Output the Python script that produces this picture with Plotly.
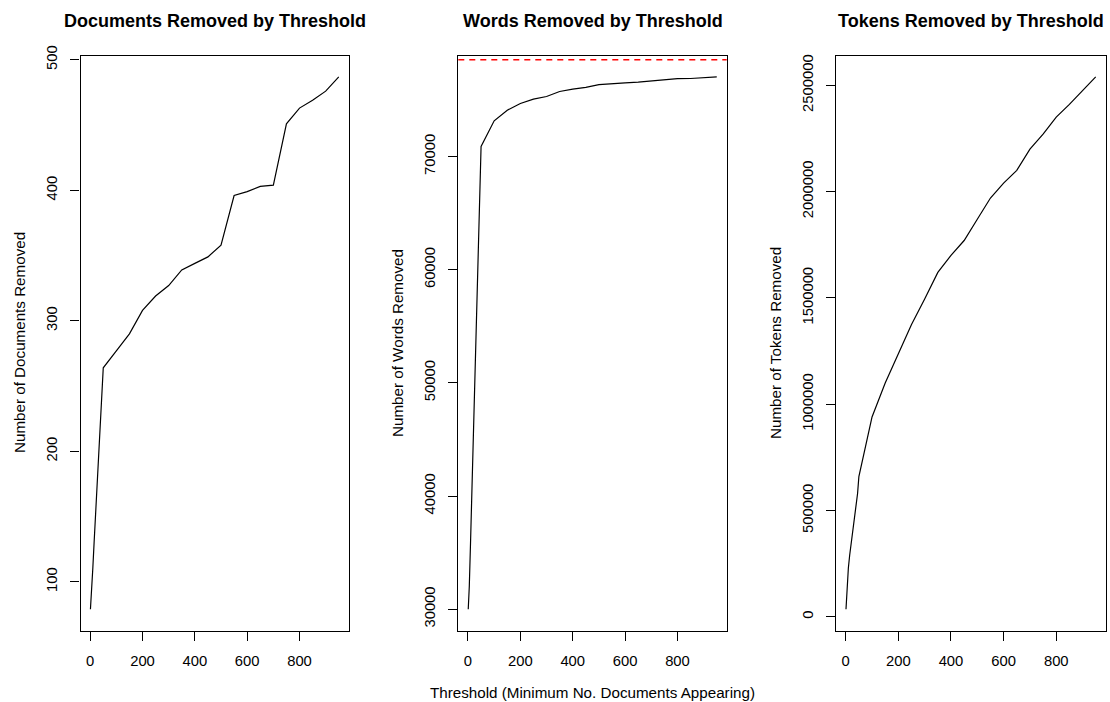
import plotly.graph_objects as go

# ---------------- data ----------------
thresholds = [1, 5, 10, 15, 20, 25, 30, 35, 40, 45, 50,
              100, 150, 200, 250, 300, 350, 400, 450, 500,
              550, 600, 650, 700, 750, 800, 850, 900, 950]

docs_removed = [79, 90, 110, 130, 150, 172, 191, 212, 232, 253, 264,
                277, 290, 308, 319, 327, 339, 344, 349, 358,
                396, 399, 403, 404, 451, 463, 469, 476, 487]

words_removed = [30000, 32000, 36100, 40200, 44300, 48400, 52600, 56500, 60500, 64600, 70900,
                 73160, 74100, 74690, 75080, 75310, 75750, 75960, 76110, 76350,
                 76460, 76520, 76580, 76670, 76760, 76880, 76900, 76950, 77050]

tokens_removed = [36000, 145000, 230000, 290000, 335000, 385000, 430000, 475000, 520000, 580000, 660000,
                  940000, 1100000, 1235000, 1375000, 1495000, 1620000, 1700000, 1770000, 1870000,
                  1970000, 2040000, 2100000, 2200000, 2270000, 2350000, 2410000, 2475000, 2540000]

total_words = 78560  # red dashed reference line

titles = ["Documents Removed by Threshold", "Words Removed by Threshold", "Tokens Removed by Threshold"]
ylabels = ["Number of Documents Removed", "Number of Words Removed", "Number of Tokens Removed"]
xlabel = "Threshold (Minimum No. Documents Appearing)"

x_ticks = [0, 200, 400, 600, 800]
y_ticks = [
    [100, 200, 300, 400, 500],
    [30000, 40000, 50000, 60000, 70000],
    [0, 500000, 1000000, 1500000, 2000000, 2500000],
]

# ---------------- layout geometry ----------------
W, H = 1110, 702
panels_px = [(80.5, 348.7), (458.3, 726.7), (836.0, 1105.7)]
top_px, bot_px = 55.5, 630.5
ylab_x_px = [19, 397, 775]

FONT = "Liberation Sans, Arial, sans-serif"
TICK_SIZE = 14.8
LABEL_SIZE = 15.2


def r_range(vals):
    lo, hi = min(vals), max(vals)
    pad = 0.04 * (hi - lo)
    return [lo - pad, hi + pad]


fig = go.Figure()
series = [docs_removed, words_removed, tokens_removed]
ydom = [1 - bot_px / H, 1 - top_px / H]

for i, ys in enumerate(series):
    sfx = "" if i == 0 else str(i + 1)
    fig.add_trace(go.Scatter(
        x=thresholds, y=ys, mode="lines",
        line=dict(color="black", width=1.2),
        xaxis="x" + sfx, yaxis="y" + sfx, showlegend=False, hoverinfo="x+y",
    ))
    l, r = panels_px[i]
    common = dict(
        showline=True, mirror=True, linecolor="black", linewidth=1.2,
        ticks="outside", ticklen=9, tickwidth=1.2, tickcolor="black",
        showgrid=False, zeroline=False, automargin=False,
        tickfont=dict(family=FONT, size=TICK_SIZE, color="black"),
    )
    fig.update_layout(**{
        "xaxis" + sfx: dict(
            domain=[l / W, r / W], anchor="y" + sfx, range=r_range(thresholds),
            tickmode="array", tickvals=x_ticks, ticktext=[str(v) for v in x_ticks],
            ticklabelstandoff=8, **common),
        "yaxis" + sfx: dict(
            domain=ydom, anchor="x" + sfx, range=r_range(ys),
            tickmode="array", tickvals=y_ticks[i], ticktext=[str(v) for v in y_ticks[i]],
            tickangle=-90, ticklabelstandoff=7, **common),
    })
    # title
    fig.add_annotation(
        x=(l + r) / 2 / W, y=1 - 21 / H, xref="paper", yref="paper",
        text="<b>%s</b>" % titles[i], showarrow=False,
        font=dict(family=FONT, size=18, color="black"),
        xanchor="center", yanchor="middle")
    # y label
    fig.add_annotation(
        x=ylab_x_px[i] / W, y=1 - (top_px + bot_px) / 2 / H, xref="paper", yref="paper",
        text=ylabels[i], showarrow=False, textangle=-90,
        font=dict(family=FONT, size=LABEL_SIZE, color="black"),
        xanchor="center", yanchor="middle")

# x label under the middle panel
fig.add_annotation(
    x=(panels_px[1][0] + panels_px[1][1]) / 2 / W, y=1 - 692 / H, xref="paper", yref="paper",
    text=xlabel, showarrow=False,
    font=dict(family=FONT, size=LABEL_SIZE, color="black"),
    xanchor="center", yanchor="middle")

# red dashed reference line in the words panel
fig.add_shape(type="line", xref="x2 domain", yref="y2", x0=0, x1=1,
              y0=total_words, y1=total_words,
              line=dict(color="#ff0000", width=1.4, dash="6px,5px"))

fig.update_layout(
    template="none",
    width=W, height=H, autosize=False,
    margin=dict(l=0, r=0, t=0, b=0, pad=0),
    paper_bgcolor="white", plot_bgcolor="white",
    font=dict(family=FONT, color="black"),
)

fig.write_html("out.html", config={"displayModeBar": False},
               post_script="document.body.style.margin='0';document.body.style.overflow='hidden';")
